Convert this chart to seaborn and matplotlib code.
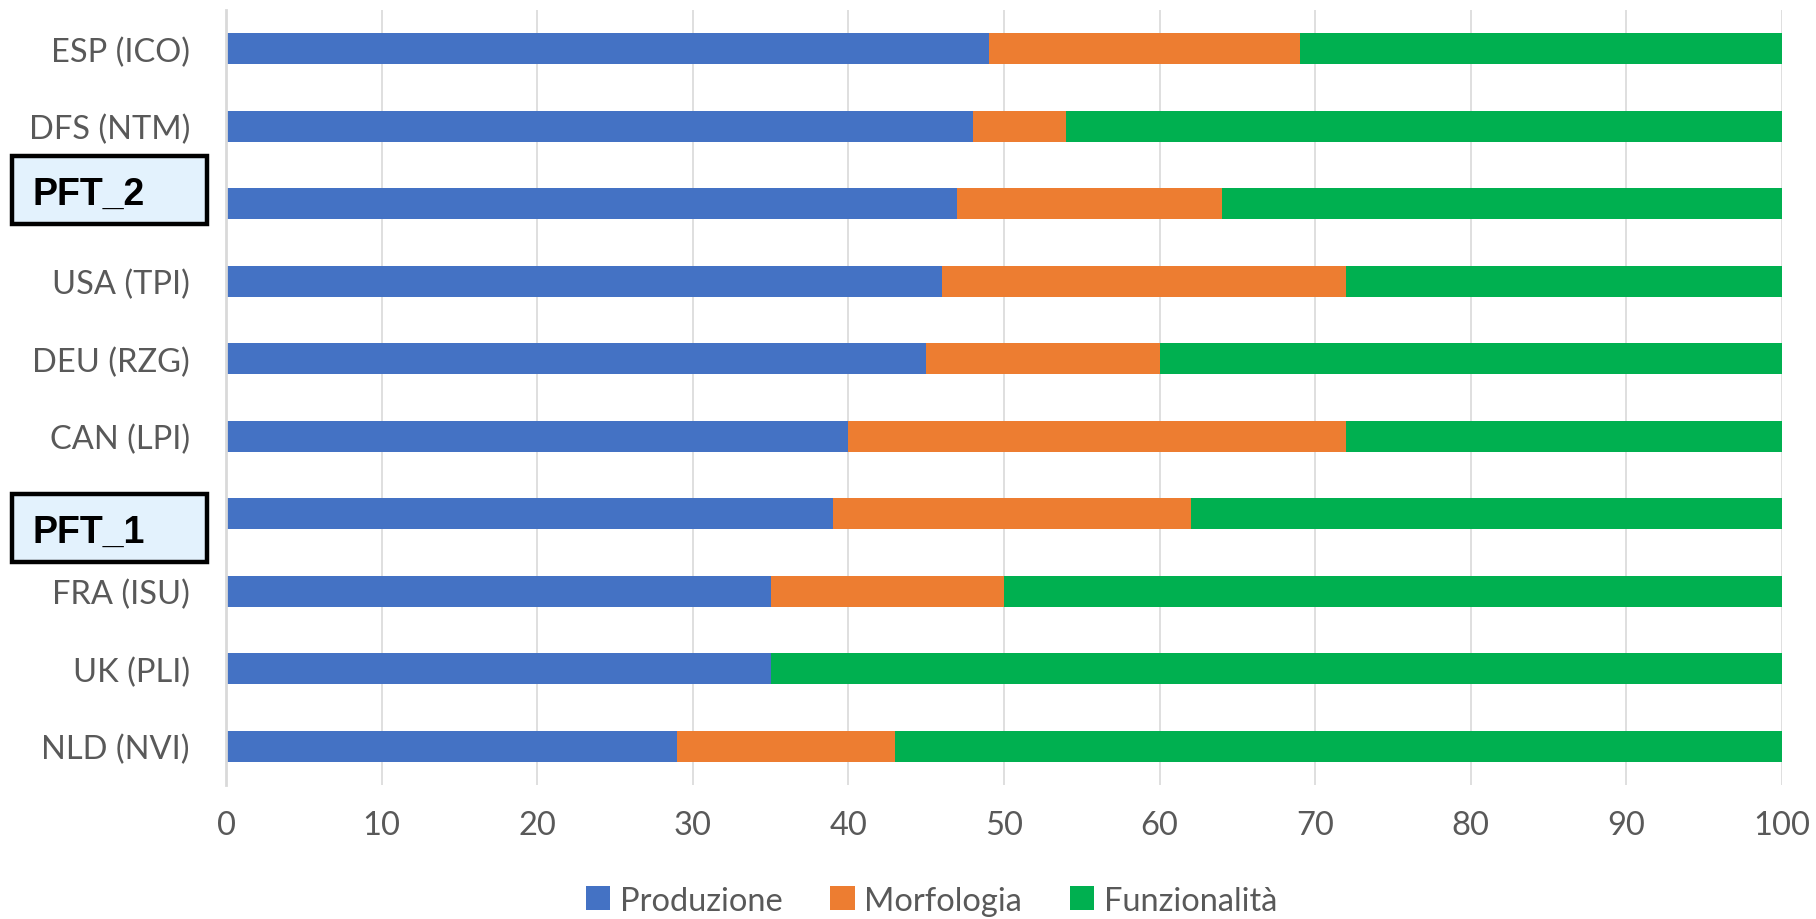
import numpy as np
import pandas as pd
import matplotlib
matplotlib.use("Agg")
import matplotlib.pyplot as plt
import matplotlib.transforms as mtransforms
from matplotlib.patches import Patch, Rectangle
import seaborn as sns

# Categories, top to bottom
categories = ["ESP (ICO)", "DFS (NTM)", "PFT_2", "USA (TPI)", "DEU (RZG)",
              "CAN (LPI)", "PFT_1", "FRA (ISU)", "UK (PLI)", "NLD (NVI)"]
produzione = [49, 48, 47, 46, 45, 40, 39, 35, 35, 29]
morfologia = [20, 6, 17, 26, 15, 32, 23, 15, 0, 14]
funzionalita = [31, 46, 36, 28, 40, 28, 38, 50, 65, 57]
series_names = ["Produzione", "Morfologia", "Funzionalità"]
highlighted = ["PFT_2", "PFT_1"]
x_ticks = [0, 10, 20, 30, 40, 50, 60, 70, 80, 90, 100]

colors = {"Produzione": "#4472C4", "Morfologia": "#ED7D31", "Funzionalità": "#00B050"}
text_gray = "#595959"
grid_gray = "#D9D9D9"

df = pd.DataFrame({"categoria": categories, "Produzione": produzione,
                   "Morfologia": morfologia, "Funzionalità": funzionalita})
df["cum1"] = df["Produzione"]
df["cum2"] = df["Produzione"] + df["Morfologia"]
df["cum3"] = df["cum2"] + df["Funzionalità"]

sns.set_theme(style="white")
plt.rcParams["font.family"] = ["Lato", "DejaVu Sans"]

fig = plt.figure(figsize=(18.16, 9.2), dpi=100)
ax = fig.add_axes([0.1245, 0.1457, 0.8568, 0.8423])

# Stacked horizontal bars: draw cumulative totals from the outside in
for col, name in [("cum3", "Funzionalità"), ("cum2", "Morfologia"), ("cum1", "Produzione")]:
    sns.barplot(data=df, x=col, y="categoria", order=categories, color=colors[name],
                saturation=1, width=0.4, orient="h", ax=ax, zorder=3, linewidth=0)

ax.set_xlim(0, 100)
ax.set_ylim(len(categories) - 0.5, -0.5)
ax.set_xticks(x_ticks)
ax.set_xticklabels([str(t) for t in x_ticks])
ax.set_xlabel("")
ax.set_ylabel("")
ax.grid(axis="x", color=grid_gray, linewidth=1.2, zorder=0)
ax.grid(axis="y", visible=False)
for side in ["top", "right", "bottom"]:
    ax.spines[side].set_visible(False)
ax.spines["left"].set_color(grid_gray)
ax.spines["left"].set_linewidth(2)
ax.spines["left"].set_zorder(4)

ax.set_yticks(range(len(categories)))
ax.set_yticklabels([c if c not in highlighted else "" for c in categories])
ax.tick_params(axis="y", length=0, pad=26, labelsize=23.5, labelcolor=text_gray)
ax.tick_params(axis="x", length=0, pad=18, labelsize=23.5, labelcolor=text_gray)

# Boxed labels for the highlighted rows
trans = mtransforms.blended_transform_factory(ax.transAxes, ax.transData)
box_offsets = {"PFT_2": -0.18, "PFT_1": 0.18}
for name in highlighted:
    yc = categories.index(name) + box_offsets[name]
    h = 0.877
    rect = Rectangle((-0.1375, yc - h / 2), 0.1253, h, transform=trans,
                     facecolor="#E3F2FD", edgecolor="black", linewidth=3.2,
                     clip_on=False, zorder=5)
    ax.add_patch(rect)
    ax.text(-0.1245, yc, name, transform=trans, ha="left", va="center_baseline",
            fontsize=27, fontweight="bold", family=["Liberation Sans", "DejaVu Sans"],
            color="black", zorder=6, clip_on=False)

handles = [Patch(facecolor=colors[n], edgecolor="none", label=n) for n in series_names]
fig.legend(handles=handles, loc="center", bbox_to_anchor=(0.513, 0.02), ncol=3,
           frameon=False, fontsize=23.5, handlelength=0.75, handleheight=0.75,
           handletextpad=0.3, columnspacing=1.45, labelcolor=text_gray)

fig.savefig("out.png", dpi=100)
